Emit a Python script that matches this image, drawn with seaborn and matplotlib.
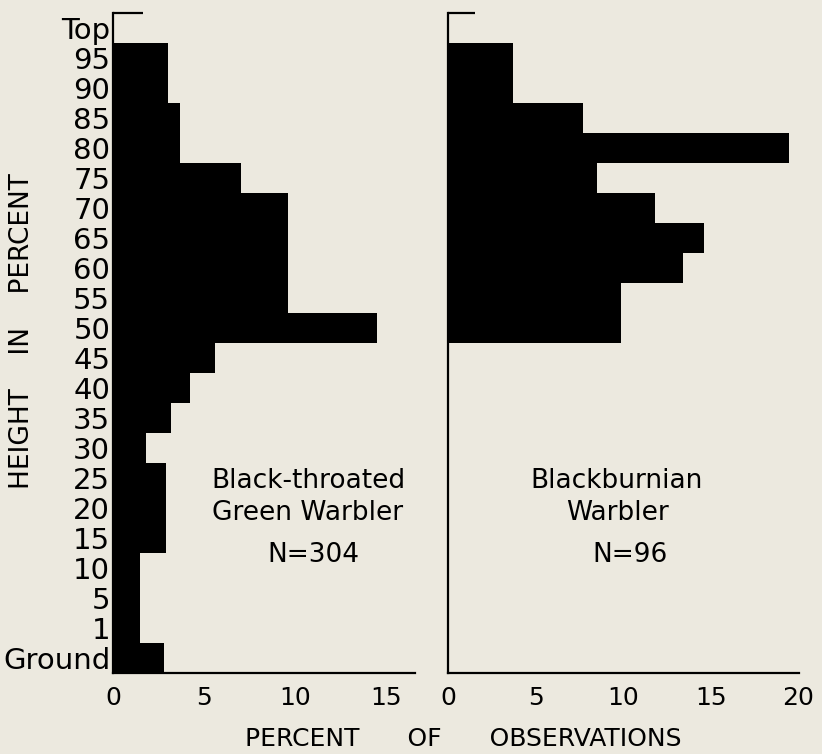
import matplotlib
matplotlib.use("Agg")
import matplotlib.pyplot as plt
import seaborn as sns
import pandas as pd

# ---- data ----
heights = ["Top", "95", "90", "85", "80", "75", "70", "65", "60", "55", "50",
           "45", "40", "35", "30", "25", "20", "15", "10", "5", "1", "Ground"]
green_pct = [0, 3.0, 3.0, 3.7, 3.7, 7.0, 9.6, 9.6, 9.6, 9.6, 14.5,
             5.6, 4.2, 3.2, 1.8, 2.9, 2.9, 2.9, 1.5, 1.5, 1.5, 2.8]
burn_pct = [0, 3.7, 3.7, 7.7, 19.5, 8.5, 11.8, 14.6, 13.4, 9.9, 9.9,
            0, 0, 0, 0, 0, 0, 0, 0, 0, 0, 0]
left_ticks = [0, 5, 10, 15]
right_ticks = [0, 5, 10, 15, 20]
left_title = "Black-throated\nGreen Warbler"
right_title = "Blackburnian\nWarbler"
left_n = "N=304"
right_n = "N=96"

BG = "#ECE9DF"
W, H = 822, 754

sns.set_theme(style="white")
plt.rcParams["font.family"] = ["DejaVu Sans"]
plt.rcParams["text.color"] = "black"

fig = plt.figure(figsize=(W / 100, H / 100), dpi=100, facecolor=BG)

def px_axes(x0, x1, y0, y1):
    return fig.add_axes([x0 / W, 1 - y1 / H, (x1 - x0) / W, (y1 - y0) / H])

axL = px_axes(113, 415, 13, 673)
axR = px_axes(448, 799, 13, 673)

dfL = pd.DataFrame({"height": heights, "pct": green_pct})
dfR = pd.DataFrame({"height": heights, "pct": burn_pct})

for ax, df, ticks, xmax, tick_frac in [(axL, dfL, left_ticks, 16.57, 0.10),
                                        (axR, dfR, right_ticks, 20.05, 0.077)]:
    ax.set_facecolor(BG)
    sns.barplot(data=df, y="height", x="pct", order=heights, orient="h",
                color="black", width=1.0, linewidth=0, saturation=1, ax=ax)
    ax.set_xlim(0, xmax)
    ax.set_ylim(len(heights) - 0.5, -0.5)
    ax.set_xticks(ticks)
    ax.set_xticklabels([str(t) for t in ticks], fontsize=18)
    ax.set_xlabel("")
    ax.set_ylabel("")
    for s in ["top", "right"]:
        ax.spines[s].set_visible(False)
    for s in ["left", "bottom"]:
        ax.spines[s].set_color("black")
        ax.spines[s].set_linewidth(1.6)
    ax.tick_params(axis="x", direction="inout", length=9, width=1.5,
                   color="black", pad=5, labelcolor="black")
    ax.tick_params(axis="y", length=0, pad=2, labelcolor="black")
    ax.plot([0, tick_frac], [1, 1], transform=ax.transAxes, color="black",
            lw=1.6, clip_on=False, solid_capstyle="butt")

axL.set_yticks(range(len(heights)))
axL.set_yticklabels(heights, fontsize=21)
axR.set_yticks([])

fig.text(308 / W, 1 - 497 / H, left_title, ha="center", va="center",
         fontsize=19, linespacing=1.3, color="black")
fig.text(313 / W, 1 - 555 / H, left_n, ha="center", va="center",
         fontsize=19, color="black")
fig.text(617 / W, 1 - 497 / H, right_title, ha="center", va="center",
         fontsize=19, linespacing=1.3, color="black")
fig.text(630 / W, 1 - 555 / H, right_n, ha="center", va="center",
         fontsize=19, color="black")

fig.text(463 / W, 1 - 739 / H, "PERCENT      OF      OBSERVATIONS",
         ha="center", va="center", fontsize=18, color="black")
fig.text(22 / W, 1 - 331 / H, "HEIGHT    IN    PERCENT", ha="center",
         va="center", rotation=90, fontsize=19, color="black")

fig.savefig("out.png", dpi=100, facecolor=BG)
